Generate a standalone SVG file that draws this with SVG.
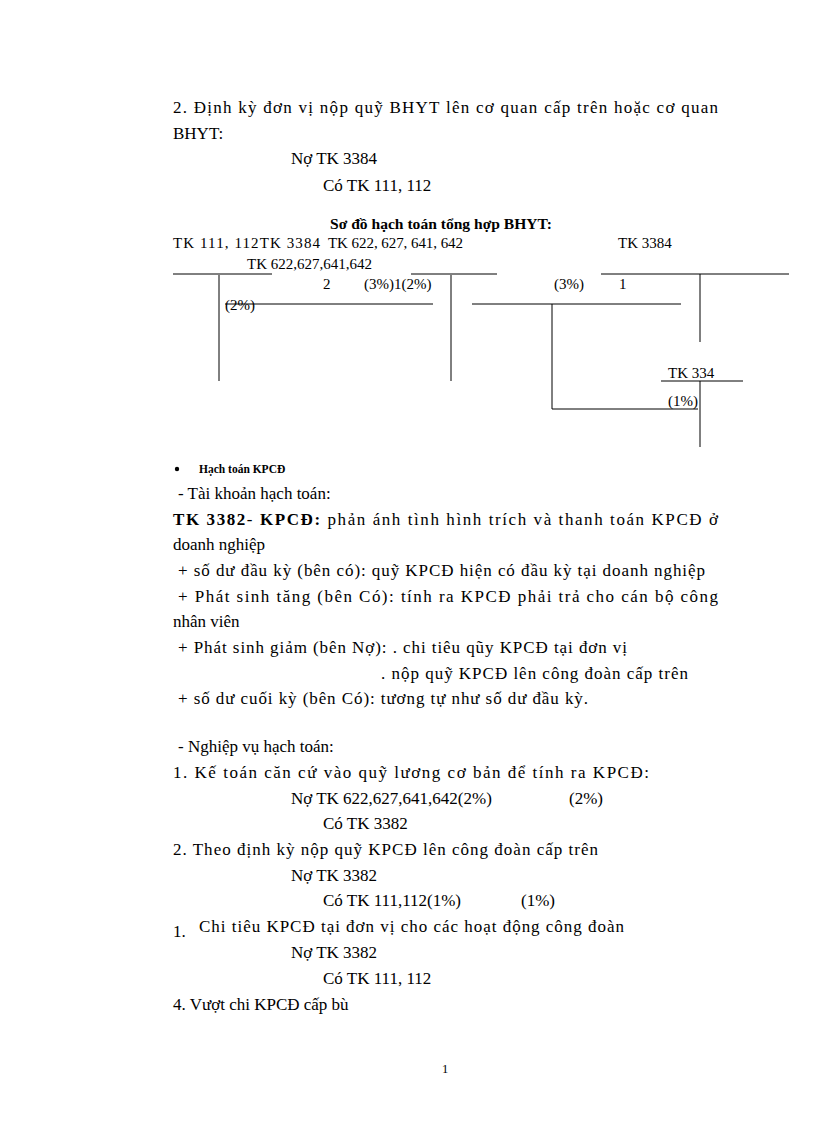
<svg xmlns="http://www.w3.org/2000/svg" width="816" height="1123" viewBox="0 0 816 1123">
<style>
.t{font-family:"Liberation Serif",serif;font-size:17px;fill:#000}
.s{font-family:"Liberation Serif",serif;font-size:15px;fill:#000}
.b{font-weight:bold}
line{stroke:#000;stroke-width:1}
</style>
<rect width="816" height="1123" fill="#fff"/>
<g id="text-top">
<text class="t" x="173" y="113" textLength="545" lengthAdjust="spacing">2. Định kỳ đơn vị nộp quỹ BHYT lên cơ quan cấp trên hoặc cơ quan</text>
<text class="t" x="173" y="139">BHYT:</text>
<text class="t" x="291" y="164">Nợ TK 3384</text>
<text class="t" x="323" y="191">Có TK 111, 112</text>
<text class="s b" x="441" y="229" text-anchor="middle" textLength="222" lengthAdjust="spacingAndGlyphs">Sơ đồ hạch toán tổng hợp BHYT:</text>
</g>
<g id="labels">
<text class="s" x="173" y="248" textLength="147" lengthAdjust="spacing">TK 111, 112TK 3384</text>
<text class="s" x="328" y="248" textLength="135" lengthAdjust="spacing">TK 622, 627, 641, 642</text>
<text class="s" x="618" y="248">TK 3384</text>
<text class="s" x="247" y="269">TK 622,627,641,642</text>
<text class="s" x="323" y="289">2</text>
<text class="s" x="364" y="289">(3%)1(2%)</text>
<text class="s" x="554" y="289">(3%)</text>
<text class="s" x="619" y="289">1</text>
<text class="s" x="225" y="310">(2%)</text>
<text class="s" x="668" y="378">TK 334</text>
<text class="s" x="668" y="406">(1%)</text>
</g>
<g id="connectors">
<line x1="173" y1="274" x2="272" y2="274"/>
<line x1="219" y1="275" x2="219" y2="381"/>
<line x1="411" y1="274" x2="497" y2="274"/>
<line x1="451" y1="275" x2="451" y2="381"/>
<line x1="225" y1="304" x2="433" y2="304"/>
<line x1="472" y1="304" x2="681" y2="304"/>
<line x1="552" y1="304" x2="552" y2="409"/>
<line x1="552" y1="409" x2="698" y2="409"/>
<line x1="601" y1="274" x2="789" y2="274"/>
<line x1="700" y1="274" x2="700" y2="342"/>
<line x1="661" y1="381" x2="743" y2="381"/>
<line x1="700" y1="381" x2="700" y2="447"/>
</g>
<g id="text-bottom">
<circle cx="177" cy="469" r="2.2" fill="#000"/>
<text class="s b" x="199" y="473" style="font-size:11.5px">Hạch toán KPCĐ</text>
<text class="t" x="178" y="499"> - Tài khoản hạch toán:</text>
<text class="t" x="173" y="525" textLength="545" lengthAdjust="spacing"><tspan class="b">TK 3382</tspan>- <tspan class="b">KPCĐ:</tspan> phản ánh tình hình trích và thanh toán KPCĐ ở</text>
<text class="t" x="173" y="550">doanh nghiệp</text>
<text class="t" x="178" y="576" textLength="527" lengthAdjust="spacing">+ số dư đầu kỳ (bên có): quỹ KPCĐ hiện có đầu kỳ tại doanh nghiệp</text>
<text class="t" x="178" y="602" textLength="540" lengthAdjust="spacing">+ Phát sinh tăng (bên Có): tính ra KPCĐ phải trả cho cán bộ công</text>
<text class="t" x="173" y="627">nhân viên</text>
<text class="t" x="178" y="653" textLength="449" lengthAdjust="spacing">+ Phát sinh giảm (bên Nợ): . chi tiêu qũy KPCĐ tại đơn vị</text>
<text class="t" x="381" y="679" textLength="307" lengthAdjust="spacing">. nộp quỹ KPCĐ lên công đoàn cấp trên</text>
<text class="t" x="178" y="704" textLength="410" lengthAdjust="spacing">+ số dư cuối kỳ (bên Có): tương tự như số dư đầu kỳ.</text>
<text class="t" x="178" y="752"> - Nghiệp vụ hạch toán:</text>
<text class="t" x="173" y="778" textLength="476" lengthAdjust="spacing">1. Kế toán căn cứ vào quỹ lương cơ bản để tính ra KPCĐ:</text>
<text class="t" x="291" y="804">Nợ TK 622,627,641,642(2%)</text>
<text class="t" x="569" y="804">(2%)</text>
<text class="t" x="323" y="829">Có TK 3382</text>
<text class="t" x="173" y="855" textLength="425" lengthAdjust="spacing">2. Theo định kỳ nộp quỹ KPCĐ lên công đoàn cấp trên</text>
<text class="t" x="291" y="881">Nợ TK 3382</text>
<text class="t" x="323" y="906">Có TK 111,112(1%)</text>
<text class="t" x="521" y="906">(1%)</text>
<text class="t" x="173" y="937">1.</text>
<text class="t" x="199" y="932" textLength="425" lengthAdjust="spacing">Chi tiêu KPCĐ tại đơn vị cho các hoạt động công đoàn</text>
<text class="t" x="291" y="958">Nợ TK 3382</text>
<text class="t" x="323" y="984">Có TK 111, 112</text>
<text class="t" x="173" y="1010">4. Vượt chi KPCĐ cấp bù</text>
<text class="s" x="445" y="1073" text-anchor="middle" style="font-size:12.5px">1</text>
</g>
</svg>
